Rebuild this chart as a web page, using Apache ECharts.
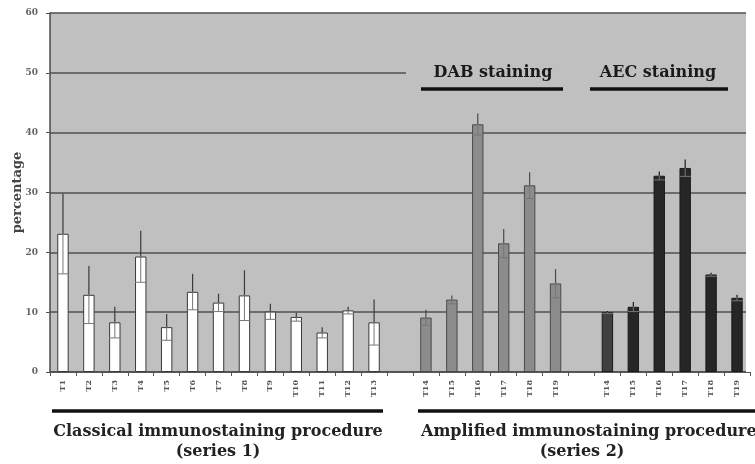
<!DOCTYPE html>
<html>
<head>
<meta charset="utf-8">
<script src="https://cdn.jsdelivr.net/npm/echarts@6/dist/echarts.min.js"></script>
<style>html,body{margin:0;padding:0;background:#fff;}#c{width:755px;height:464px;}</style>
</head>
<body>
<div id="c"></div>
<script>
// ---- data ----
var classicalLabels = ['T1','T2','T3','T4','T5','T6','T7','T8','T9','T10','T11','T12','T13'];
var classicalValues = [23.1, 12.9, 8.3, 19.3, 7.5, 13.4, 11.6, 12.8, 10.1, 9.2, 6.6, 10.3, 8.3];
var classicalErrors = [6.7, 4.8, 2.6, 4.3, 2.2, 3.0, 1.5, 4.2, 1.3, 0.7, 0.9, 0.6, 3.8];
var dabLabels = ['T14','T15','T16','T17','T18','T19'];
var dabValues = [9.1, 12.1, 41.4, 21.5, 31.2, 14.8];
var dabErrors = [1.3, 0.7, 1.8, 2.4, 2.2, 2.4];
var aecLabels = ['T14','T15','T16','T17','T18','T19'];
var aecValues = [10.0, 10.9, 32.8, 34.1, 16.3, 12.4];
var aecErrors = [0.2, 0.8, 0.7, 1.4, 0.3, 0.5];
var yTicks = [0, 10, 20, 30, 40, 50, 60];

// ---- build ----
var categories = [].concat(classicalLabels, [''], dabLabels, [' '], aecLabels);
var barData = [];
var errData = [];
var idx = 0;
function addGroup(vals, errs, fill, border) {
  for (var i = 0; i < vals.length; i++) {
    barData.push({value: vals[i], itemStyle: {color: fill, borderColor: border, borderWidth: 1}});
    errData.push([idx, vals[i], errs[i], border]);
    idx++;
  }
}
addGroup(classicalValues, classicalErrors, '#ffffff', '#3a3a3a');
barData.push('-'); idx++;
addGroup(dabValues, dabErrors, '#8c8c8c', '#4a4a4a');
barData.push('-'); idx++;
addGroup(aecValues, aecErrors, '#262626', '#1a1a1a');
barData[21].itemStyle.color = '#404040';

var serif = '"DejaVu Serif", "Liberation Serif", serif';
var chart = echarts.init(document.getElementById('c'), null, {renderer: 'canvas'});
var option = {
  animation: false,
  backgroundColor: '#ffffff',
  grid: {left: 50, right: 5, top: 13, bottom: 92, show: true, backgroundColor: '#c0c0c0', borderWidth: 0,
    containLabel: false, outerBoundsMode: 'none'},
  xAxis: {
    type: 'category',
    data: categories,
    boundaryGap: true,
    axisLine: {lineStyle: {color: '#4a4a4a', width: 1.5}},
    axisTick: {show: true, length: 4, alignWithLabel: false, lineStyle: {color: '#555'}},
    axisLabel: {rotate: 90, fontSize: 8, fontWeight: 'bold', color: '#555', fontFamily: serif, margin: 8, interval: 0}
  },
  yAxis: {
    type: 'value',
    min: 0, max: 60, interval: 10,
    name: 'percentage',
    nameLocation: 'middle',
    nameGap: 26,
    nameMoveOverlap: false,
    nameRotate: 90,
    nameTextStyle: {fontFamily: serif, fontWeight: 'bold', fontSize: 13, color: '#444'},
    axisLine: {show: true, lineStyle: {color: '#4a4a4a', width: 1.5}},
    axisTick: {show: true, length: 4, lineStyle: {color: '#555'}},
    axisLabel: {fontSize: 9, fontWeight: 'bold', color: '#666', fontFamily: serif, margin: 12,
      formatter: function (v) { return yTicks.indexOf(v) >= 0 ? String(v) : ''; }},
    splitLine: {show: true, lineStyle: {color: '#505050', width: 1.5}}
  },
  series: [
    {
      type: 'bar',
      data: barData,
      barWidth: '44%',
      z: 2
    },
    {
      type: 'custom',
      z: 3,
      data: errData,
      encode: {x: 0, y: 1},
      renderItem: function (params, api) {
        var x = api.value(0), v = api.value(1), e = api.value(2);
        var top = api.coord([x, v + e]);
        var bot = api.coord([x, v - e]);
        var mid = api.coord([x, v]);
        var w = api.size([1, 0])[0] * 0.44;
        var color = errData[params.dataIndex][3];
        return {
          type: 'group',
          children: [
            {type: 'line', shape: {x1: top[0], y1: top[1], x2: mid[0], y2: mid[1]}, style: {stroke: color, lineWidth: 1.2}},
            {type: 'line', shape: {x1: mid[0], y1: mid[1], x2: bot[0], y2: bot[1]}, style: {stroke: '#777', lineWidth: 1}},
            {type: 'line', shape: {x1: bot[0] - w / 2, y1: bot[1], x2: bot[0] + w / 2, y2: bot[1]}, style: {stroke: '#777', lineWidth: 1}}
          ]
        };
      }
    }
  ],
  graphic: [
    {type: 'rect', shape: {x: 406, y: 64, width: 340, height: 16}, style: {fill: '#c0c0c0'}, z: 10},
    {type: 'rect', shape: {x: 746, y: 0, width: 9, height: 372}, style: {fill: '#ffffff'}, z: 10},
    {type: 'text', x: 493, y: 73, style: {text: 'DAB staining', fontFamily: serif, fontWeight: 'bold', fontSize: 16, fill: '#1a1a1a', textAlign: 'center', textVerticalAlign: 'middle'}, z: 11},
    {type: 'line', shape: {x1: 421, y1: 89, x2: 563, y2: 89}, style: {stroke: '#111', lineWidth: 3.5}, z: 11},
    {type: 'text', x: 658, y: 73, style: {text: 'AEC staining', fontFamily: serif, fontWeight: 'bold', fontSize: 16, fill: '#1a1a1a', textAlign: 'center', textVerticalAlign: 'middle'}, z: 11},
    {type: 'line', shape: {x1: 590, y1: 89, x2: 728, y2: 89}, style: {stroke: '#111', lineWidth: 3.5}, z: 11},
    {type: 'line', shape: {x1: 52, y1: 411, x2: 383, y2: 411}, style: {stroke: '#111', lineWidth: 3.5}, z: 11},
    {type: 'line', shape: {x1: 418, y1: 411, x2: 755, y2: 411}, style: {stroke: '#111', lineWidth: 3.5}, z: 11},
    {type: 'text', x: 218, y: 432, style: {text: 'Classical immunostaining procedure', fontFamily: serif, fontWeight: 'bold', fontSize: 16, fill: '#222', textAlign: 'center', textVerticalAlign: 'middle'}, z: 11},
    {type: 'text', x: 218, y: 452, style: {text: '(series 1)', fontFamily: serif, fontWeight: 'bold', fontSize: 16, fill: '#222', textAlign: 'center', textVerticalAlign: 'middle'}, z: 11},
    {type: 'text', x: 421, y: 432, style: {text: 'Amplified immunostaining procedure', fontFamily: serif, fontWeight: 'bold', fontSize: 16, fill: '#222', textAlign: 'left', textVerticalAlign: 'middle'}, z: 11},
    {type: 'text', x: 582, y: 452, style: {text: '(series 2)', fontFamily: serif, fontWeight: 'bold', fontSize: 16, fill: '#222', textAlign: 'center', textVerticalAlign: 'middle'}, z: 11}
  ]
};
chart.setOption(option);
</script>
</body>
</html>
